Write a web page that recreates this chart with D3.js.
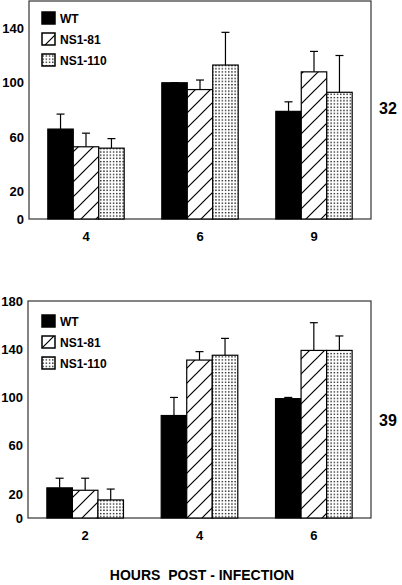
<!DOCTYPE html>
<html><head><meta charset="utf-8">
<script src="https://cdn.jsdelivr.net/npm/d3@7"></script>
<style>body{margin:0;background:#fff}svg{display:block}text{font-family:"Liberation Sans",Arial,sans-serif;font-weight:bold;fill:#000}</style>
</head><body><div id="c"></div>
<script>
const series = ["WT", "NS1-81", "NS1-110"];
// Panel A (32)
const hoursA = ["4", "6", "9"];
const valuesA = { "WT": [66, 100, 79], "NS1-81": [53, 95, 108], "NS1-110": [52, 113, 93] };
const errorsA = { "WT": [77, 100, 86], "NS1-81": [63, 102, 123], "NS1-110": [59, 137, 120] };
const ticksA = [0, 20, 60, 100, 140];
const labelA = "32";
// Panel B (39)
const hoursB = ["2", "4", "6"];
const valuesB = { "WT": [25, 85, 99], "NS1-81": [23, 131, 139], "NS1-110": [15, 135, 139] };
const errorsB = { "WT": [33, 100, 100], "NS1-81": [33, 138, 162], "NS1-110": [24, 149, 151] };
const ticksB = [0, 20, 60, 100, 140, 180];
const labelB = "39";
const xTitle = "HOURS  POST - INFECTION";

const W = 402, H = 585;
const svg = d3.select("#c").append("svg").attr("width", W).attr("height", H);
const defs = svg.append("defs");
const hatch = defs.append("pattern").attr("id", "hatch").attr("patternUnits", "userSpaceOnUse")
  .attr("width", 15).attr("height", 15);
hatch.append("rect").attr("width", 15).attr("height", 15).attr("fill", "#fff");
hatch.append("path").attr("d", "M-4,19 L19,-4 M-4,4 L4,-4 M11,19 L19,11").attr("stroke", "#000").attr("stroke-width", 1.2);
const dots = defs.append("pattern").attr("id", "dots").attr("patternUnits", "userSpaceOnUse")
  .attr("width", 3.2).attr("height", 6.4);
dots.append("rect").attr("width", 3.2).attr("height", 6.4).attr("fill", "#fff");
dots.append("rect").attr("x", 0.9).attr("y", 0.9).attr("width", 1.3).attr("height", 1.3).attr("fill", "#000");
dots.append("rect").attr("x", 0.9).attr("y", 4.1).attr("width", 1.3).attr("height", 1.3).attr("fill", "#000");
const fills = { "WT": "#000", "NS1-81": "url(#hatch)", "NS1-110": "url(#dots)" };

function panel(cfg) {
  const { hours, values, errors, ticks, label, x0, x1, yTop, yBot, ymax, legendY } = cfg;
  const g = svg.append("g");
  const x = d3.scaleBand().domain(hours).range([x0, x1]).paddingInner(0.33).paddingOuter(0.165);
  const xs = d3.scaleBand().domain(series).range([0, x.bandwidth()]);
  const y = d3.scaleLinear().domain([0, ymax]).range([yBot, yTop]);

  g.append("rect").attr("x", x0).attr("y", yTop).attr("width", x1 - x0).attr("height", yBot - yTop)
    .attr("fill", "none").attr("stroke", "#333").attr("stroke-width", 1.2);

  const ya = d3.axisLeft(y).tickValues(ticks).tickSize(0).tickPadding(5);
  const yg = g.append("g").attr("transform", `translate(${x0},0)`).call(ya);
  yg.select(".domain").remove();
  yg.selectAll("text").style("font-size", "13px").style("font-family", "Liberation Sans, Arial, sans-serif").style("font-weight", "bold").attr("fill", "#000");

  const xa = d3.axisBottom(x).tickSize(0).tickPadding(13);
  const xg = g.append("g").attr("transform", `translate(0,${yBot})`).call(xa);
  xg.select(".domain").remove();
  xg.selectAll("text").style("font-size", "13px").style("font-family", "Liberation Sans, Arial, sans-serif").style("font-weight", "bold").attr("fill", "#000");

  series.forEach(s => {
    hours.forEach((h, i) => {
      const bx = x(h) + xs(s), bw = xs.bandwidth();
      const cx = bx + bw / 2;
      g.append("line").attr("x1", cx).attr("x2", cx).attr("y1", y(values[s][i])).attr("y2", y(errors[s][i]))
        .attr("stroke", "#000").attr("stroke-width", 1.2);
      g.append("line").attr("x1", cx - 4).attr("x2", cx + 4).attr("y1", y(errors[s][i])).attr("y2", y(errors[s][i]))
        .attr("stroke", "#000").attr("stroke-width", 1.2);
      g.append("rect").attr("x", bx).attr("y", y(values[s][i])).attr("width", bw)
        .attr("height", y(0) - y(values[s][i])).attr("fill", fills[s]).attr("stroke", "#000").attr("stroke-width", 1.2);
    });
  });

  series.forEach((s, i) => {
    const ly = legendY + i * 21;
    g.append("rect").attr("x", 42).attr("y", ly).attr("width", 13).attr("height", 12)
      .attr("fill", fills[s]).attr("stroke", "#000").attr("stroke-width", 1.5);
    g.append("text").attr("x", 60).attr("y", ly + 10.5).style("font-size", "12px").text(s);
  });

  g.append("text").attr("x", 388).attr("y", cfg.labelY).attr("text-anchor", "middle").style("font-size", "16px").text(label);
}

panel({ hours: hoursA, values: valuesA, errors: errorsA, ticks: ticksA, label: labelA,
  x0: 29, x1: 371, yTop: 1, yBot: 219, ymax: 160, legendY: 12, labelY: 114 });
panel({ hours: hoursB, values: valuesB, errors: errorsB, ticks: ticksB, label: labelB,
  x0: 28, x1: 371, yTop: 301, yBot: 518, ymax: 180, legendY: 315, labelY: 426 });

svg.append("text").attr("x", 202).attr("y", 580).attr("text-anchor", "middle").style("font-size", "14px")
  .attr("xml:space", "preserve").style("white-space", "pre").text(xTitle);
</script></body></html>
